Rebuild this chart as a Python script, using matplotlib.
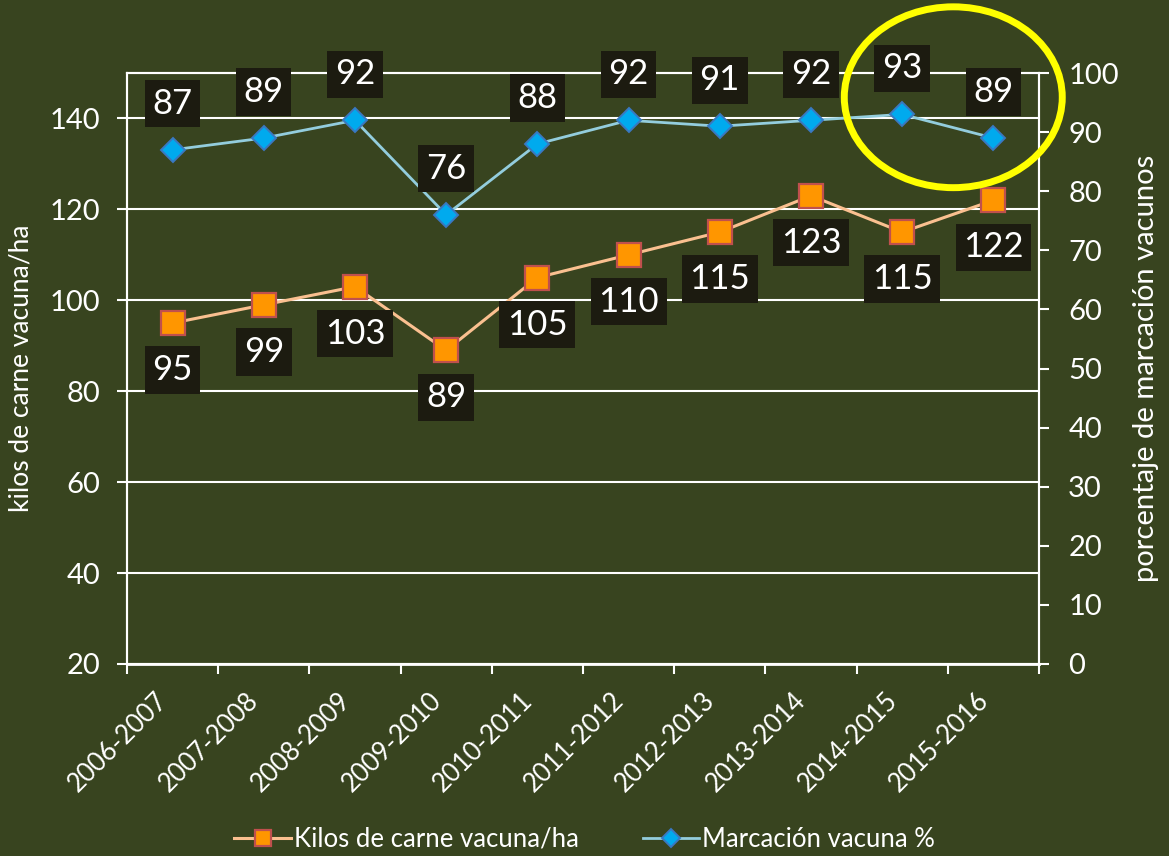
import matplotlib
matplotlib.use("Agg")
import matplotlib.pyplot as plt
from matplotlib.patches import Ellipse
import numpy as np

plt.rcParams["font.family"] = ["Lato", "DejaVu Sans"]

# data
seasons = ["2006-2007", "2007-2008", "2008-2009", "2009-2010", "2010-2011",
           "2011-2012", "2012-2013", "2013-2014", "2014-2015", "2015-2016"]
kilos_ha = [95, 99, 103, 89, 105, 110, 115, 123, 115, 122]
marcacion = [87, 89, 92, 76, 88, 92, 91, 92, 93, 89]

BG = "#38441f"
BOX = "#1c1b10"
ORANGE_LINE = "#fac090"
ORANGE_FACE = "#ff9600"
ORANGE_EDGE = "#c0504d"
BLUE_LINE = "#93cddd"
BLUE_FACE = "#00aaee"
BLUE_EDGE = "#3a78c0"

fig = plt.figure(figsize=(11.69, 8.56), dpi=100, facecolor=BG)
ax = fig.add_axes([0.1086, 0.2243, 0.7802, 0.6904])
ax.set_facecolor(BG)
ax2 = ax.twinx()
ax2.set_facecolor("none")

x = np.arange(len(seasons))

l1, = ax.plot(x, kilos_ha, "-s", color=ORANGE_LINE, lw=2.2, markersize=17,
              markerfacecolor=ORANGE_FACE, markeredgecolor=ORANGE_EDGE,
              markeredgewidth=1.6, label="Kilos de carne vacuna/ha", zorder=3)
l2, = ax2.plot(x, marcacion, "-D", color=BLUE_LINE, lw=2.0, markersize=12.5,
               markerfacecolor=BLUE_FACE, markeredgecolor=BLUE_EDGE,
               markeredgewidth=1.4, label="Marcación vacuna %", zorder=3)

# value labels in dark boxes (orange below, blue above)
box = dict(boxstyle="square,pad=0.22", facecolor=BOX, edgecolor="none")
for xi, v in zip(x, kilos_ha):
    ax.annotate(str(v), (xi, v), xytext=(0, -47), textcoords="offset pixels",
                ha="center", va="center", color="white", fontsize=25,
                bbox=box, zorder=5)
for xi, v in zip(x, marcacion):
    ax2.annotate(str(v), (xi, v), xytext=(0, 46), textcoords="offset pixels",
                 ha="center", va="center", color="white", fontsize=25,
                 bbox=box, zorder=5, annotation_clip=False)

ax.set_xlim(-0.5, len(seasons) - 0.5)
ax.set_ylim(20, 150)
ax.set_yticks(range(20, 141, 20))
ax2.set_ylim(0, 100)
ax2.set_yticks(range(0, 101, 10))

ax.set_xticks(x)
ax.set_xticklabels(seasons, rotation=45, ha="right", va="top", fontsize=18.5)
ax.set_xticks(np.arange(-0.5, len(seasons)), minor=True)
ax.tick_params(axis="x", which="major", length=0, pad=17, colors="white")
ax.tick_params(axis="x", which="minor", length=7, width=1.5, direction="out",
               color="white")
ax.tick_params(axis="y", length=7, width=1.5, direction="out", pad=12,
               colors="white", labelsize=21)
ax2.tick_params(axis="y", length=7, width=1.5, direction="out", pad=14,
                colors="white", labelsize=21)

ax.yaxis.grid(True, color="white", lw=1.5)
ax.set_axisbelow(True)
for a in (ax, ax2):
    for s in a.spines.values():
        s.set_color("white")
        s.set_linewidth(1.5)
ax.spines["bottom"].set_linewidth(2)

ax.set_ylabel("kilos de carne vacuna/ha", color="white", fontsize=19, labelpad=12)
ax2.set_ylabel("porcentaje de marcación vacunos", color="white", fontsize=21,
               labelpad=10)

# highlight circle around the last two seasons
ring = Ellipse((8.56, 95.9), 2.39, 30.6, fill=False, edgecolor="#ffff00",
               lw=5, clip_on=False, zorder=6)
ax2.add_patch(ring)

fig.legend(handles=[l1, l2], loc="lower center", bbox_to_anchor=(0.5, -0.022),
           ncol=2, frameon=False, fontsize=18.5, labelcolor="white",
           markerscale=0.7, handlelength=2.2, handletextpad=0.1,
           columnspacing=2.5)

fig.savefig("out.png", dpi=100, facecolor=BG)
